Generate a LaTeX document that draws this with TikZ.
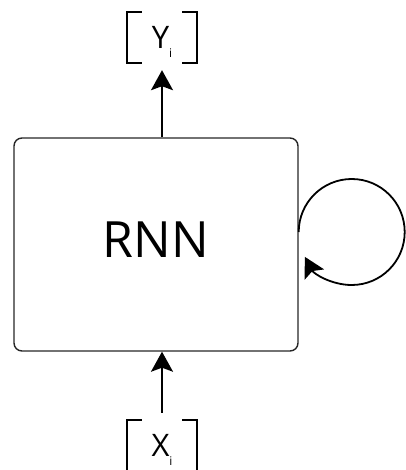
\documentclass[tikz,border=0pt]{standalone}
\usepackage{fontspec}
\setmainfont{Open Sans}
\usetikzlibrary{arrows.meta}

\tikzset{
  vec/.style={minimum width=70pt, minimum height=51pt, inner sep=0pt,
    text height=22pt, text depth=0pt, font=\fontsize{31}{31}\selectfont},
  flow/.style={line width=1.8pt, -{Stealth[length=20pt,width=22pt,inset=4pt]}}
}
\newcommand{\sub}[1]{\raisebox{-9pt}{\fontsize{12}{12}\selectfont #1}}

\begin{document}
\begin{tikzpicture}[x=1pt,y=-1pt]
\useasboundingbox (0,0) rectangle (405,470);
\node[draw=black!85, line width=1.4pt, rounded corners=8pt, minimum width=284pt, minimum height=213pt,
  text depth=10pt, font=\fontsize{50}{50}\selectfont] (rnn) at (156,244.5) {RNN};
\node[vec] (y) at (162,37.5) {Y\sub{i}};
\node[vec] (x) at (162,445.5) {X\sub{i}};
% brackets
\draw[line width=1.6pt] ([xshift=15pt]y.north west) -- (y.north west) -- (y.south west) -- ++(15,0);
\draw[line width=1.6pt] ([xshift=-15pt]y.north east) -- (y.north east) -- (y.south east) -- ++(-15,0);
\draw[line width=1.6pt] ([xshift=15pt]x.north west) -- (x.north west) -- (x.south west) -- ++(15,0);
\draw[line width=1.6pt] ([xshift=-15pt]x.north east) -- (x.north east) -- (x.south east) -- ++(-15,0);
% arrows
\draw[flow, shorten >=7pt] (rnn.north -| y.south) -- (y.south);
\draw[flow, shorten <=7pt] (x.north) -- (rnn.south -| x.north);
\coordinate (loop) at (rnn.east |- 0,232);
\draw[flow] (loop) arc[start angle=180, end angle=512, radius=53];
\end{tikzpicture}
\end{document}
